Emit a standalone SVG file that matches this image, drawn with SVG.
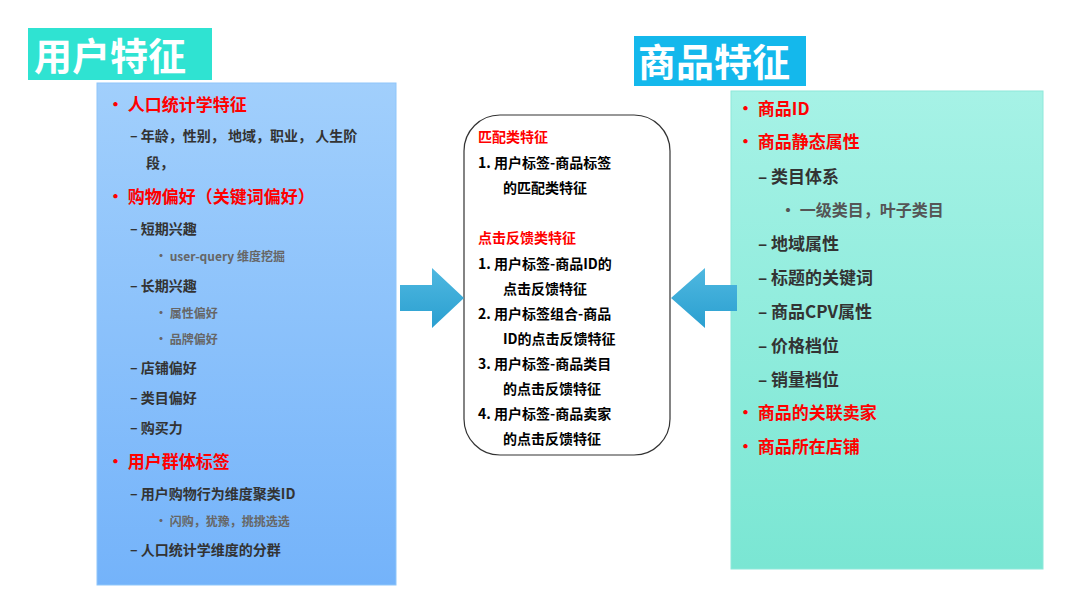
<svg xmlns="http://www.w3.org/2000/svg" width="1080" height="604" viewBox="0 0 1080 604">
<defs>
<linearGradient id="gl" x1="0" y1="0" x2="0" y2="1"><stop offset="0" stop-color="#a1cffc"/><stop offset="1" stop-color="#74b3fa"/></linearGradient>
<linearGradient id="gr" x1="0" y1="0" x2="0" y2="1"><stop offset="0" stop-color="#a6f2e6"/><stop offset="1" stop-color="#7ae6d3"/></linearGradient>
<linearGradient id="ga" x1="0" y1="0" x2="0" y2="1"><stop offset="0" stop-color="#4fb8e0"/><stop offset="1" stop-color="#2a9fd0"/></linearGradient>
<style>
text{font-family:"Noto Sans CJK SC","Noto Sans",sans-serif;font-weight:bold}
.r{fill:#ff0000;font-size:17px}
.d{fill:#333;font-size:14px}
.s{fill:#666;font-size:12px}
.rr{fill:#ff0000;font-size:17px}
.dr{fill:#333;font-size:17px}
.sr{fill:#555;font-size:16px}
.c{fill:#000;font-size:14px}
.cr{fill:#ff0000;font-size:14px}
.t{fill:#fff;font-size:38px}
</style>
</defs>
<g id="title-user"><rect x="28" y="28" width="184" height="52" fill="#2fe3d2"/><text class="t" x="34" y="70">用户特征</text></g>
<g id="title-item"><rect x="634" y="36" width="172" height="50" fill="#14b8ec"/><text class="t" x="638" y="76">商品特征</text></g>
<g id="user-box">
<rect x="97" y="83" width="299" height="502" fill="url(#gl)" stroke="#8fc6fa"/>
<text class="r" x="107" y="111">•  人口统计学特征</text>
<text class="d" x="130" y="141">–   年龄，性别， 地域，职业， 人生阶</text>
<text class="d" x="146" y="168">段，</text>
<text class="r" x="107" y="203">•  购物偏好（关键词偏好）</text>
<text class="d" x="130" y="234">–  短期兴趣</text>
<text class="s" x="155" y="261">•   user-query 维度挖掘</text>
<text class="d" x="130" y="291">–  长期兴趣</text>
<text class="s" x="155" y="318">•  属性偏好</text>
<text class="s" x="155" y="344">•  品牌偏好</text>
<text class="d" x="130" y="373">–  店铺偏好</text>
<text class="d" x="130" y="403">–  类目偏好</text>
<text class="d" x="130" y="433">–  购买力</text>
<text class="r" x="107" y="468">•  用户群体标签</text>
<text class="d" x="130" y="499">–   用户购物行为维度聚类ID</text>
<text class="s" x="155" y="526">•  闪购，犹豫，挑挑选选</text>
<text class="d" x="130" y="555">–   人口统计学维度的分群</text>
</g>
<g id="match-box">
<rect x="464" y="115" width="206" height="340" rx="36" fill="#fff" stroke="#333" stroke-width="1.2"/>
<text class="cr" x="478" y="142">匹配类特征</text>
<text class="c" x="478" y="168">1.  用户标签-商品标签</text>
<text class="c" x="503" y="193">的匹配类特征</text>
<text class="cr" x="478" y="243">点击反馈类特征</text>
<text class="c" x="478" y="269">1.  用户标签-商品ID的</text>
<text class="c" x="503" y="294">点击反馈特征</text>
<text class="c" x="478" y="319">2.  用户标签组合-商品</text>
<text class="c" x="503" y="344">ID的点击反馈特征</text>
<text class="c" x="478" y="369">3.  用户标签-商品类目</text>
<text class="c" x="503" y="394">的点击反馈特征</text>
<text class="c" x="478" y="419">4.  用户标签-商品卖家</text>
<text class="c" x="503" y="444">的点击反馈特征</text>
</g>
<g id="item-box">
<rect x="731" y="91" width="312" height="478" fill="url(#gr)" stroke="#8ee8da"/>
<text class="rr" x="737" y="115">•  商品ID</text>
<text class="rr" x="737" y="148">•  商品静态属性</text>
<text class="dr" x="758" y="183">–  类目体系</text>
<text class="sr" x="780" y="216">•  一级类目，叶子类目</text>
<text class="dr" x="758" y="250">–  地域属性</text>
<text class="dr" x="758" y="284">–  标题的关键词</text>
<text class="dr" x="758" y="318">–  商品CPV属性</text>
<text class="dr" x="758" y="352">–  价格档位</text>
<text class="dr" x="758" y="386">–  销量档位</text>
<text class="rr" x="737" y="419">•  商品的关联卖家</text>
<text class="rr" x="737" y="453">•  商品所在店铺</text>
</g>
<g id="connectors">
<polygon points="400,285 432,285 432,268 464,298 432,328 432,311 400,311" fill="url(#ga)"/>
<polygon points="737,285 705,285 705,268 671,298 705,328 705,311 737,311" fill="url(#ga)"/>
</g>
</svg>
